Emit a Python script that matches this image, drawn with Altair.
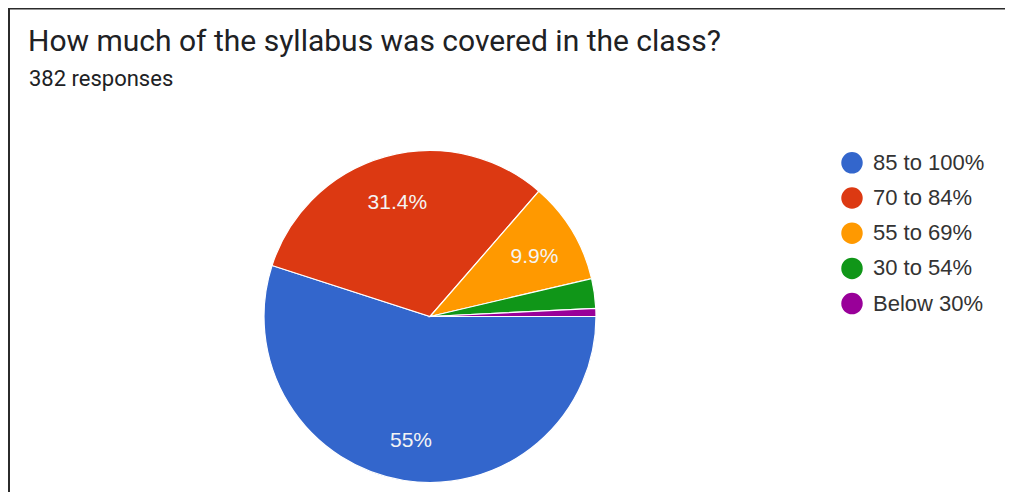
import math
import altair as alt
import pandas as pd

# ---- data ----
categories = ["85 to 100%", "70 to 84%", "55 to 69%", "30 to 54%", "Below 30%"]
counts = [210, 120, 38, 11, 3]          # 382 responses in total
labels = ["55%", "31.4%", "9.9%", "", ""]
colors = ["#3366cc", "#dc3912", "#ff9900", "#109618", "#990099"]
title_text = "How much of the syllabus was covered in the class?"
subtitle_text = "382 responses"

df = pd.DataFrame({
    "category": categories,
    "count": counts,
    "label": labels,
    "order": list(range(len(categories))),
})
frame_df = pd.DataFrame({"k": [0]})
title_df = pd.DataFrame({"t": [title_text]})
subtitle_df = pd.DataFrame({"t": [subtitle_text]})

# ---- layout ----
PLOT_W, PLOT_H = 997, 384
PAD_TOP = 100
CX, CY, R = 422, 208.5, 166

theta = alt.Theta(
    "count:Q", stack=True,
    scale=alt.Scale(range=[math.pi / 2, math.pi / 2 + 2 * math.pi]),
)
color = alt.Color(
    "category:N",
    sort=categories,
    scale=alt.Scale(domain=categories, range=colors),
    legend=alt.Legend(
        title=None, orient="none", legendX=833, legendY=43.8,
        symbolType="circle", symbolSize=460, symbolStrokeWidth=0,
        labelFont="Liberation Sans", labelFontSize=22, labelColor="#333333",
        labelOffset=10, rowPadding=13.2, padding=0,
    ),
)
order = alt.Order("order:Q", sort="ascending")

base = alt.Chart(df).encode(theta=theta, order=order)

pie = base.mark_arc(radius=R, stroke="white", strokeWidth=1.2).encode(
    color=color, x=alt.value(CX), y=alt.value(CY)
)
text = base.mark_text(
    radius=122, dy=4, font="Liberation Sans", fontSize=21, color="#f4f4f4"
).encode(text="label:N", x=alt.value(CX), y=alt.value(CY))

title = alt.Chart(title_df).mark_text(
    font="Roboto", fontSize=30, color="#202124", align="left", baseline="alphabetic"
).encode(text="t:N", x=alt.value(20), y=alt.value(-57.3))
subtitle = alt.Chart(subtitle_df).mark_text(
    font="Roboto", fontSize=22, color="#202124", align="left", baseline="alphabetic"
).encode(text="t:N", x=alt.value(21), y=alt.value(-22))

border_top = alt.Chart(frame_df).mark_rule(color="#2b2b2b", strokeWidth=2).encode(
    x=alt.value(0), x2=alt.value(PLOT_W), y=alt.value(-PAD_TOP + 0.5)
)
border_left = alt.Chart(frame_df).mark_rule(color="#2b2b2b", strokeWidth=2).encode(
    x=alt.value(1), y=alt.value(-PAD_TOP), y2=alt.value(PLOT_H)
)

chart = alt.layer(border_top, border_left, title, subtitle, pie, text).properties(
    width=PLOT_W,
    height=PLOT_H,
    padding={"left": 0, "top": PAD_TOP, "right": 0, "bottom": 0},
    autosize=alt.AutoSizeParams(type="none"),
).configure(background="white").configure_view(stroke=None)

chart.save("out.html", embed_options={"renderer": "svg", "actions": False})
